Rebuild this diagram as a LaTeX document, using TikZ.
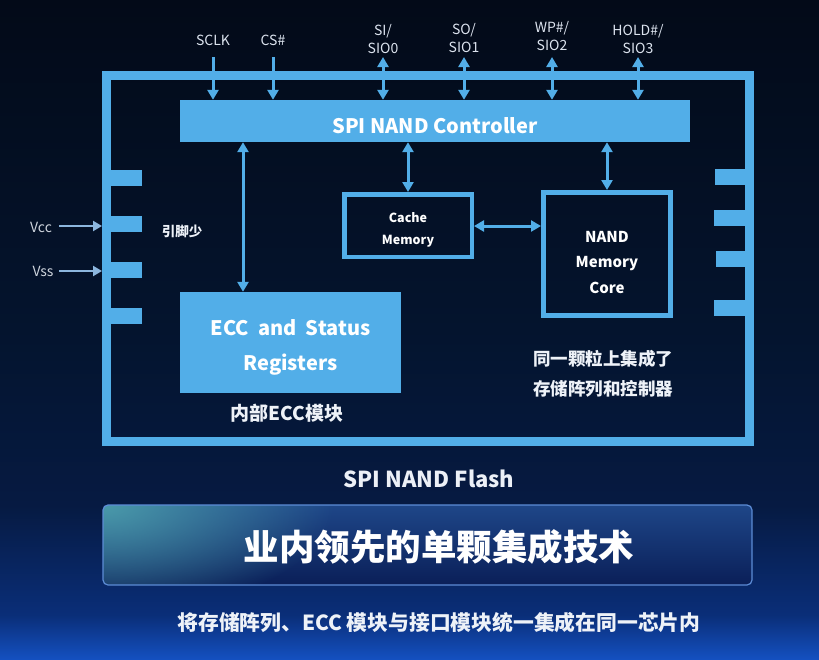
\documentclass[tikz,border=0pt]{standalone}
\usepackage{fontspec}
\setmainfont{Noto Sans CJK SC}
\usetikzlibrary{arrows.meta,calc,fadings}
\definecolor{chipblue}{HTML}{52AEE8}
\definecolor{pwrblue}{HTML}{8CB6DE}
\definecolor{bgtop}{HTML}{030A18}
\definecolor{bgmid}{HTML}{04142E}
\definecolor{bgmid2}{HTML}{061A42}
\definecolor{bglow}{HTML}{0A2E78}
\definecolor{bgbot}{HTML}{1450C0}
\definecolor{txtw}{HTML}{EEF2F8}
\definecolor{lbl}{HTML}{DCE3EE}
\definecolor{banteal}{HTML}{4A9AAA}
\definecolor{bantop}{HTML}{1E4688}
\definecolor{banbot}{HTML}{0A1F58}
\definecolor{banedge}{HTML}{5C8CD6}
\newcommand{\fs}[1]{\fontsize{#1}{#1}\selectfont}
\tikzfading[name=glowfade, inner color=transparent!0, outer color=transparent!100]
\tikzset{
  busline/.style={draw=chipblue, line width=3pt},
  downarr/.style={busline, -{Triangle[length=10pt,width=11pt]}},
  biarr/.style={busline, {Triangle[length=10pt,width=11pt]}-{Triangle[length=10pt,width=11pt]}},
  pwrarr/.style={draw=pwrblue, line width=2.5pt, -{Triangle[length=9pt,width=10pt]}},
  pinfill/.style={fill=chipblue},
  pinlbl/.style={text=lbl, font=\fs{14}, inner sep=0pt, align=center},
  captxt/.style={text=txtw, font=\fs{17.5}\bfseries, inner sep=0pt},
  solidbox/.style={fill=chipblue, inner sep=0pt},
  linebox/.style={draw=chipblue, inner sep=0pt},
  boxtxt/.style={text=white, inner sep=0pt, align=center}
}
\begin{document}
\begin{tikzpicture}[x=1pt,y=-1pt]
\useasboundingbox (0,0) rectangle (819,659);
% background
\shade[top color=bgtop, bottom color=bgmid] (0,0) rectangle (819,330);
\shade[top color=bgmid, bottom color=bgmid2] (0,330) rectangle (819,505);
\shade[top color=bgmid2, bottom color=bglow] (0,505) rectangle (819,615);
\shade[top color=bglow, bottom color=bgbot] (0,615) rectangle (819,659);

% chip frame
\node[draw=chipblue, line width=9pt, minimum width=642.5pt, minimum height=366pt, inner sep=0pt] (chip) at (427.75,258.5) {};

% pins left
\fill[pinfill] (110,170) rectangle (142,186);
\fill[pinfill] (110,216) rectangle (142,232);
\fill[pinfill] (110,262) rectangle (142,278);
\fill[pinfill] (110,308) rectangle (142,324);
% pins right
\fill[pinfill] (715,169) rectangle (745,185);
\fill[pinfill] (714,210) rectangle (745,226);
\fill[pinfill] (716,251) rectangle (745,267);
\fill[pinfill] (714,300) rectangle (745,316);

% controller
\node[solidbox, minimum width=510pt, minimum height=42pt] (ctrl) at (435,121) {};
\node[boxtxt, font=\fs{20}\bfseries] (ctrltxt) at ([yshift=-5pt]ctrl.center) {SPI NAND Controller};

% ECC
\node[solidbox, minimum width=221pt, minimum height=101pt] (ecc) at (290.5,342.5) {};
\node[boxtxt, font=\fs{20}\bfseries] (ecctxt) at ([yshift=-5pt]ecc.center)
  {ECC\ \ and\ \ Status\\[15pt]Registers};

% cache
\node[linebox, line width=4.5pt, minimum width=127.5pt, minimum height=62.5pt] (cache) at (408,225.5) {};
\node[boxtxt, font=\fs{12.5}\bfseries] (cachetxt) at ([yshift=-4pt]cache.center) {Cache\\[9.5pt]Memory};
% NAND core
\node[linebox, line width=5pt, minimum width=127pt, minimum height=123pt] (nand) at (607,254) {};
\node[boxtxt, font=\fs{15}\bfseries] (nandtxt) at ([yshift=-8.5pt]nand.center) {NAND\\[10.5pt]Memory\\[10.5pt]Core};

% top signal labels and arrows
\node[pinlbl] (lsclk) at (213,40) {SCLK};
\node[pinlbl] (lcs) at (273,40) {CS\#};
\node[pinlbl] (lsi) at (383,39) {SI/\\[4pt]SIO0};
\node[pinlbl] (lso) at (464,38) {SO/\\[4pt]SIO1};
\node[pinlbl] (lwp) at (552,36) {WP\#/\\[4pt]SIO2};
\node[pinlbl] (lhold) at (638,39) {HOLD\#/\\[4pt]SIO3};

\coordinate (tsclk) at (213,57);
\coordinate (tcs) at (273,57);
\coordinate (tsi) at (383,57);
\coordinate (tso) at (464,57);
\coordinate (twp) at (552,57);
\coordinate (thold) at (638,57);
\draw[downarr] (tsclk) -- (tsclk |- ctrl.north);
\draw[downarr] (tcs) -- (tcs |- ctrl.north);
\draw[biarr] (tsi) -- (tsi |- ctrl.north);
\draw[biarr] (tso) -- (tso |- ctrl.north);
\draw[biarr] (twp) -- (twp |- ctrl.north);
\draw[biarr] (thold) -- (thold |- ctrl.north);

% internal connectors
\coordinate (eccx) at (243,0);
\draw[biarr] (eccx |- ctrl.south) -- (eccx |- ecc.north);
\draw[biarr] (cache.north |- ctrl.south) -- (cache.north);
\draw[biarr] (nand.north |- ctrl.south) -- (nand.north);
\coordinate (cny) at (0,226);
\draw[biarr] (cache.east |- cny) -- (nand.west |- cny);

% power
\coordinate (vccS) at (59,226);
\coordinate (vssS) at (59,271);
\node[pinlbl, text=lbl!85!gray] (lvcc) at (41,227) {Vcc};
\node[pinlbl, text=lbl!85!gray] (lvss) at (43,271) {Vss};
\draw[pwrarr] (vccS) -- (vccS -| chip.west);
\draw[pwrarr] (vssS) -- (vssS -| chip.west);

% captions
\node[captxt, font=\fs{13.5}\bfseries] (pins) at (182,231) {引脚少};
\node[captxt] (int1) at (603,358.5) {同一颗粒上集成了};
\node[captxt] (int2) at (603,389) {存储阵列和控制器};
\node[captxt, font=\fs{19}\bfseries] (eccint) at (287,413) {内部ECC模块};
\node[captxt, font=\fs{22}\bfseries, text=txtw!90!lbl] (flash) at (429,479) {SPI NAND Flash};

% banner
\begin{scope}
  \clip[rounded corners=5pt] (103,505) rectangle (752,585);
  \shade[top color=bantop, bottom color=banbot] (103,505) rectangle (752,585);
  \fill[banteal, path fading=glowfade] (103,505) ellipse [x radius=230pt, y radius=110pt];
\end{scope}
\node[draw=banedge, line width=1.2pt, rounded corners=5pt, minimum width=649pt, minimum height=80pt, inner sep=0pt] (banner) at (427.5,545) {};
\node[text=white, font=\fs{35.5}\bfseries, inner sep=0pt] (bantext) at (439,547) {业内领先的单颗集成技术};
\node[captxt, font=\fs{20.8}\bfseries] (summary) at (439,623) {将存储阵列、ECC 模块与接口模块统一集成在同一芯片内};
\end{tikzpicture}
\end{document}
